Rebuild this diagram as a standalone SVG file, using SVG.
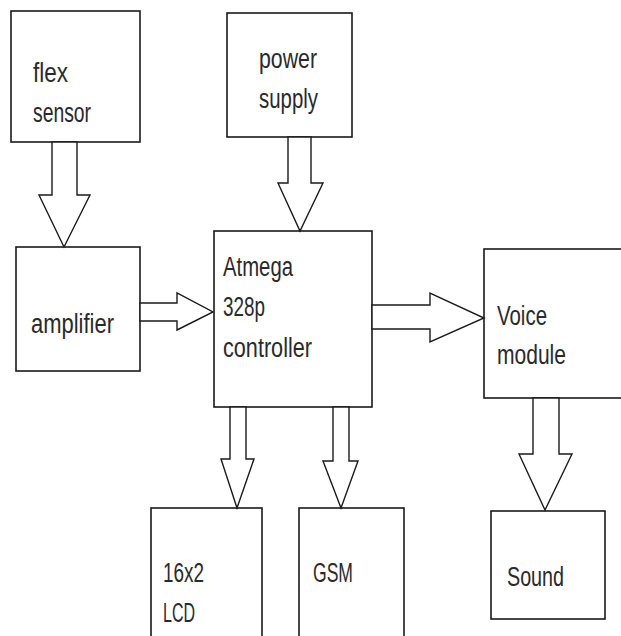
<svg xmlns="http://www.w3.org/2000/svg" width="621" height="636" viewBox="0 0 621 636">
<style>
.box{fill:#fff;stroke:#1a1a1a;stroke-width:1.6}
.arr{fill:#fff;stroke:#1a1a1a;stroke-width:1.4;stroke-linejoin:miter}
.t{font-family:"Liberation Sans",Arial,sans-serif;font-size:27px;fill:#2a2a2a}
</style>
<rect width="621" height="636" fill="#fff"/>
<g id="flex-sensor">
<rect class="box" x="11" y="11" width="129" height="131"/>
<text class="t" x="33" y="82" textLength="35" lengthAdjust="spacingAndGlyphs">flex</text>
<text class="t" x="33" y="122" textLength="58" lengthAdjust="spacingAndGlyphs">sensor</text>
</g>
<g id="power-supply">
<rect class="box" x="227" y="13" width="125" height="124"/>
<text class="t" x="259" y="68" textLength="58" lengthAdjust="spacingAndGlyphs">power</text>
<text class="t" x="259" y="108" textLength="59" lengthAdjust="spacingAndGlyphs">supply</text>
</g>
<g id="amplifier">
<rect class="box" x="16" y="247" width="124" height="124"/>
<text class="t" x="31" y="333" textLength="83" lengthAdjust="spacingAndGlyphs">amplifier</text>
</g>
<g id="controller">
<rect class="box" x="214" y="231" width="158" height="176"/>
<text class="t" x="223" y="276" textLength="70" lengthAdjust="spacingAndGlyphs">Atmega</text>
<text class="t" x="223" y="316" textLength="42" lengthAdjust="spacingAndGlyphs">328p</text>
<text class="t" x="223" y="357" textLength="89" lengthAdjust="spacingAndGlyphs">controller</text>
</g>
<g id="voice-module">
<rect class="box" x="484" y="249" width="160" height="149"/>
<text class="t" x="497" y="325" textLength="50" lengthAdjust="spacingAndGlyphs">Voice</text>
<text class="t" x="497" y="364" textLength="69" lengthAdjust="spacingAndGlyphs">module</text>
</g>
<g id="sound">
<rect class="box" x="491" y="511" width="114" height="108"/>
<text class="t" x="507" y="586" textLength="57" lengthAdjust="spacingAndGlyphs">Sound</text>
</g>
<g id="lcd">
<rect class="box" x="151" y="508" width="111" height="140"/>
<text class="t" x="163" y="582" textLength="41" lengthAdjust="spacingAndGlyphs">16x2</text>
<text class="t" x="163" y="622" textLength="32" lengthAdjust="spacingAndGlyphs">LCD</text>
</g>
<g id="gsm">
<rect class="box" x="299" y="508" width="105" height="140"/>
<text class="t" x="313" y="582" textLength="40" lengthAdjust="spacingAndGlyphs">GSM</text>
</g>
<g id="connectors">
<polygon class="arr" points="52,142 52,195 39,195 64,247 90,195 77,195 77,142"/>
<polygon class="arr" points="288,137 288,183 278,183 300,231 323,183 311,183 311,137"/>
<polygon class="arr" points="140,303 177,303 177,293 213,312 177,330 177,321 140,321"/>
<polygon class="arr" points="372,305 430,305 430,293 484,318 430,342 430,329 372,329"/>
<polygon class="arr" points="533,398 533,454 519,454 545,510 572,454 559,454 559,398"/>
<polygon class="arr" points="230,407 230,459 221,459 237,508 254,459 246,459 246,407"/>
<polygon class="arr" points="333,407 333,461 323,461 341,508 358,461 349,461 349,407"/>
</g>
</svg>
